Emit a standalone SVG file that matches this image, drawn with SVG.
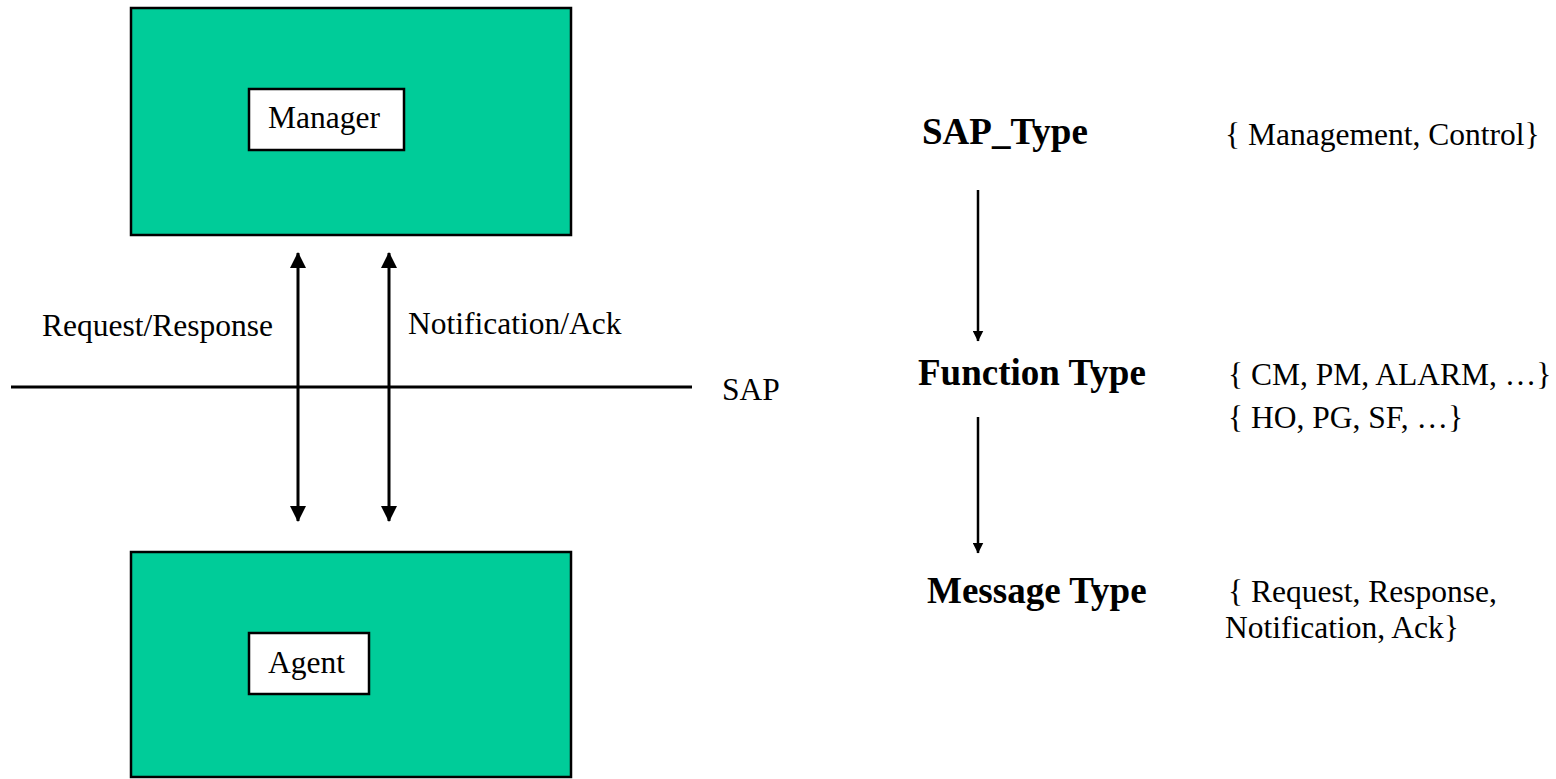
<svg xmlns="http://www.w3.org/2000/svg" width="1556" height="779" viewBox="0 0 1556 779">
<style>
.outer{fill:#00CC99;stroke:#000;stroke-width:2.5}
.inner{fill:#fff;stroke:#000;stroke-width:2.5}
.t{font-family:"Liberation Serif","Times New Roman",serif;font-size:31.5px;fill:#000}
.b{font-family:"Liberation Serif","Times New Roman",serif;font-size:37px;font-weight:bold;fill:#000}
.ln{stroke:#000;stroke-width:3;fill:none}
.ln2{stroke:#000;stroke-width:2.5;fill:none}
</style>
<defs>
<marker id="ah" markerUnits="userSpaceOnUse" markerWidth="16" markerHeight="16" viewBox="0 0 16 16" refX="15" refY="8" orient="auto-start-reverse">
<path d="M0,0 L16,8 L0,16 Z" fill="#000"/>
</marker>
<marker id="ah2" markerUnits="userSpaceOnUse" markerWidth="11" markerHeight="11" viewBox="0 0 11 11" refX="10.5" refY="5.5" orient="auto">
<path d="M0,0 L11,5.5 L0,11 Z" fill="#000"/>
</marker>
</defs>
<rect width="1556" height="779" fill="#fff"/>
<g id="manager">
<rect class="outer" x="131" y="8" width="440" height="227"/>
<rect class="inner" x="249" y="89" width="155" height="61"/>
<text class="t" x="268" y="128">Manager</text>
</g>
<g id="agent">
<rect class="outer" x="131" y="552" width="440" height="225"/>
<rect class="inner" x="249" y="633" width="120" height="61"/>
<text class="t" x="268" y="673">Agent</text>
</g>
<g id="sap">
<line class="ln" x1="11" y1="387" x2="692" y2="387"/>
<text class="t" x="722" y="400">SAP</text>
</g>
<g id="labels">
<text class="t" x="42" y="336">Request/Response</text>
<text class="t" x="408" y="334">Notification/Ack</text>
</g>
<g id="sap-type">
<text class="b" x="922" y="144">SAP_Type</text>
<text class="t" x="1225" y="145">{ Management, Control}</text>
</g>
<g id="function-type">
<text class="b" x="918" y="385">Function Type</text>
<text class="t" x="1228" y="385">{ CM, PM, ALARM, …}</text>
<text class="t" x="1228" y="428">{ HO, PG, SF, …}</text>
</g>
<g id="message-type">
<text class="b" x="927" y="603">Message Type</text>
<text class="t" x="1228" y="602">{ Request, Response,</text>
<text class="t" x="1225" y="638">Notification, Ack}</text>
</g>
<g id="connectors">
<line class="ln" x1="298" y1="253" x2="298" y2="521" marker-start="url(#ah)" marker-end="url(#ah)"/>
<line class="ln" x1="389" y1="253" x2="389" y2="521" marker-start="url(#ah)" marker-end="url(#ah)"/>
<line class="ln2" x1="978" y1="190" x2="978" y2="341" marker-end="url(#ah2)"/>
<line class="ln2" x1="978" y1="417" x2="978" y2="553" marker-end="url(#ah2)"/>
</g>
</svg>
